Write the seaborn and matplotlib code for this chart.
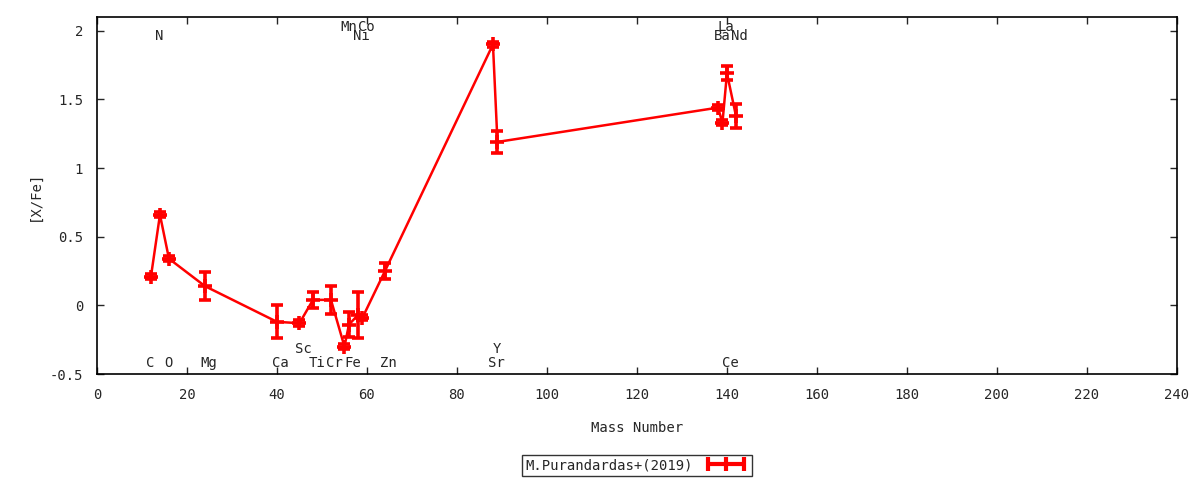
import numpy as np
import pandas as pd
import matplotlib
matplotlib.use('Agg')
import matplotlib.pyplot as plt
from matplotlib.lines import Line2D
import seaborn as sns

elements = ['C', 'N', 'O', 'Mg', 'Ca', 'Sc', 'Ti', 'Cr', 'Mn', 'Fe', 'Ni', 'Co', 'Zn',
            'Sr', 'Y', 'Ba', 'La', 'Ce', 'Nd']
mass = [12, 14, 16, 24, 40, 45, 48, 52, 55, 56, 58, 59, 64, 88, 89, 138, 139, 140, 142]
xfe = [0.21, 0.66, 0.34, 0.14, -0.12, -0.13, 0.04, 0.04, -0.30, -0.14, -0.07, -0.09, 0.25,
       1.90, 1.19, 1.44, 1.33, 1.69, 1.38]
err = [0.02, 0.02, 0.02, 0.10, 0.12, 0.02, 0.06, 0.10, 0.02, 0.09, 0.17, 0.02, 0.06,
       0.02, 0.08, 0.02, 0.02, 0.05, 0.09]

# label rows as in the original figure (y in data units)
label_y = {'C': -0.42, 'O': -0.42, 'Mg': -0.42, 'Ca': -0.42, 'Ti': -0.42, 'Cr': -0.42,
           'Fe': -0.42, 'Zn': -0.42, 'Sr': -0.42, 'Ce': -0.42,
           'Sc': -0.32, 'Y': -0.32,
           'N': 1.96, 'Ni': 1.96, 'Ba': 1.96, 'Nd': 1.96,
           'Mn': 2.03, 'Co': 2.03, 'La': 2.03}

df = pd.DataFrame({'element': elements, 'mass': mass, 'xfe': xfe, 'err': err})

sns.set_style('ticks')
plt.rcParams['font.family'] = ['DejaVu Sans Mono', 'DejaVu Sans']
fs = 10

fig = plt.figure(figsize=(12, 4.8), dpi=100)
ax = fig.add_axes([0.0808, 0.2208, 0.9, 0.7438])

red = '#ff0000'
sns.lineplot(data=df, x='mass', y='xfe', color=red, lw=1.8, ax=ax, legend=False)
ax.errorbar(df['mass'], df['xfe'], yerr=df['err'], fmt='+', color=red, ms=10, mew=2.6,
            elinewidth=2.6, capsize=4, capthick=2.6)

for el, m in zip(elements, mass):
    ax.text(m - 1, label_y[el], el, ha='left', va='center', fontsize=fs)

ax.set_xlim(0, 240)
ax.set_ylim(-0.5, 2.1)
ax.set_xticks(np.arange(0, 241, 20))
ax.set_yticks([-0.5, 0, 0.5, 1, 1.5, 2])
ax.set_yticklabels(['-0.5', '0', '0.5', '1', '1.5', '2'])
ax.tick_params(direction='in', length=5, width=1, top=True, right=True, labelsize=fs)
ax.tick_params(axis='y', pad=10)
ax.tick_params(axis='x', pad=10)
for s in ax.spines.values():
    s.set_linewidth(1.2)
    s.set_color('black')

ax.set_xlabel('Mass Number', labelpad=14, fontsize=fs)
ax.set_ylabel('[X/Fe]', labelpad=6, fontsize=fs)

handle = Line2D([], [], color=red, lw=3, marker='|', ms=10, mew=3)
leg = ax.legend(handles=[handle], labels=['M.Purandardas+(2019)'], loc='center',
                bbox_to_anchor=(0.5, -0.255), frameon=True, fancybox=False,
                edgecolor='black', markerfirst=False, handlelength=3.2, numpoints=3,
                borderpad=0.25, fontsize=fs)
leg.get_frame().set_linewidth(1.0)

fig.savefig('out.png', dpi=100)
